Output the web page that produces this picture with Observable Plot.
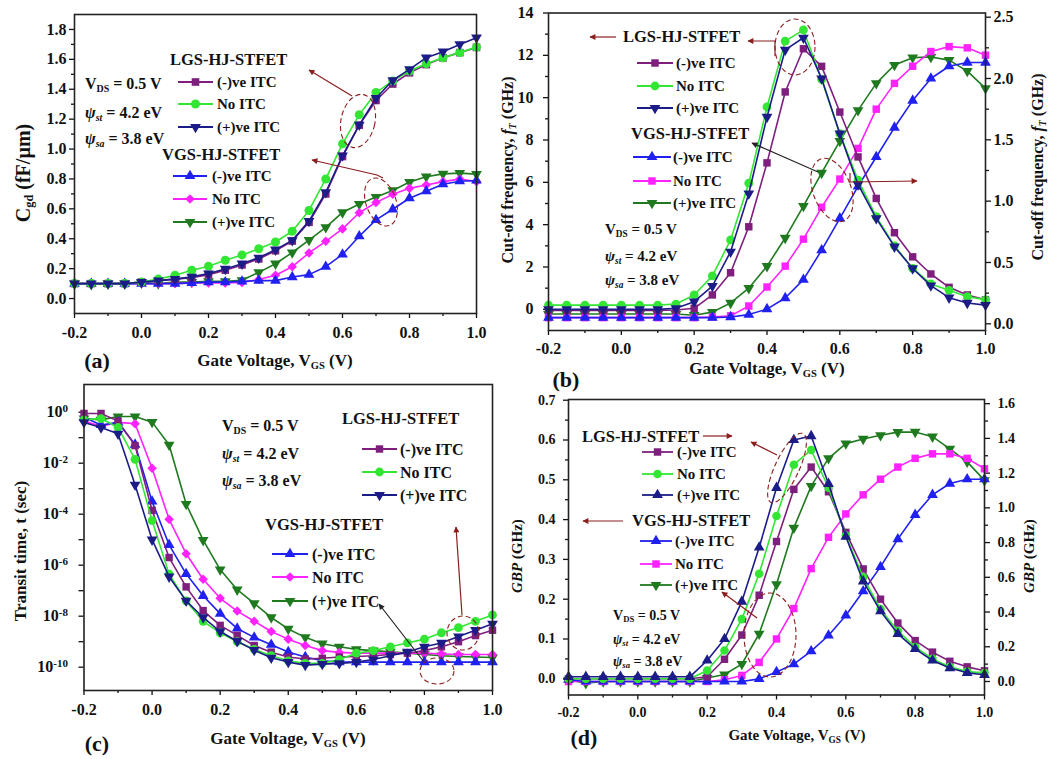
<!DOCTYPE html>
<html><head><meta charset="utf-8">
<script src="https://cdn.jsdelivr.net/npm/d3@7"></script>
<script src="https://cdn.jsdelivr.net/npm/@observablehq/plot@0.6"></script>
<style>
body{margin:0;background:#fff;}
#root{position:relative;width:1049px;height:759px;overflow:hidden;background:#fff;}
.panel{position:absolute;}
#overlay{position:absolute;left:0;top:0;font-family:"Liberation Serif","Times New Roman",serif;}
</style></head><body><div id="root"></div>
<script>
// ---------- data ----------
const VG = [-0.2,-0.15,-0.1,-0.05,0,0.05,0.1,0.15,0.2,0.25,0.3,0.35,0.4,0.45,0.5,0.55,0.6,0.65,0.7,0.75,0.8,0.85,0.9,0.95,1.0];
const xTickLabels = [-0.2,0,0.2,0.4,0.6,0.8,1.0];
const xMinorTicks = [-0.1,0.1,0.3,0.5,0.7,0.9];

// (a) Cgd (fF/um)
const a_lgs_neg = [0.10,0.10,0.10,0.10,0.11,0.12,0.13,0.14,0.16,0.19,0.225,0.265,0.32,0.385,0.51,0.70,0.95,1.16,1.325,1.435,1.51,1.565,1.61,1.645,1.68];
const a_lgs_no  = [0.10,0.10,0.10,0.10,0.11,0.13,0.156,0.189,0.216,0.256,0.292,0.333,0.378,0.45,0.589,0.80,1.035,1.23,1.378,1.456,1.522,1.571,1.611,1.645,1.682];
const a_lgs_pos = [0.10,0.10,0.10,0.10,0.11,0.12,0.13,0.145,0.167,0.198,0.233,0.273,0.327,0.389,0.518,0.711,0.956,1.162,1.34,1.46,1.533,1.611,1.651,1.70,1.745];
const a_vgs_neg = [0.10,0.10,0.10,0.10,0.10,0.10,0.10,0.105,0.11,0.11,0.115,0.12,0.12,0.144,0.16,0.213,0.295,0.417,0.526,0.597,0.671,0.718,0.765,0.785,0.79];
const a_vgs_no  = [0.10,0.10,0.10,0.10,0.10,0.10,0.10,0.105,0.105,0.105,0.108,0.127,0.156,0.213,0.305,0.383,0.466,0.574,0.642,0.697,0.737,0.76,0.782,0.799,0.782];
const a_vgs_pos = [0.10,0.095,0.10,0.10,0.105,0.10,0.11,0.11,0.115,0.115,0.122,0.175,0.233,0.308,0.391,0.476,0.576,0.632,0.679,0.723,0.779,0.815,0.834,0.839,0.832];

// (b) fT (GHz): LGS on left axis, VGS on right axis
const b_lgs_neg = [-0.05,-0.05,-0.05,-0.05,-0.05,-0.05,-0.05,-0.03,0.05,0.68,1.73,3.9,6.92,10.27,12.31,11.48,9.32,7.2,5.24,3.62,2.48,1.67,1.04,0.68,0.45];
const b_lgs_no  = [0.2,0.2,0.2,0.2,0.2,0.2,0.2,0.25,0.68,1.58,3.28,5.96,9.56,12.67,13.2,10.86,8.3,6.1,4.38,3.0,1.93,1.2,0.9,0.6,0.45];
const b_lgs_pos = [0,0,0,0,0,0,0,0.05,0.36,1.1,2.72,5.47,9.09,12.26,12.83,10.9,8.3,5.9,4.3,2.96,1.93,1.12,0.55,0.3,0.2];
const b_vgs_neg = [0.05,0.05,0.05,0.05,0.05,0.05,0.05,0.05,0.05,0.05,0.055,0.075,0.12,0.21,0.36,0.60,0.86,1.12,1.36,1.60,1.82,2.0,2.10,2.13,2.13];
const b_vgs_no  = [0.05,0.05,0.05,0.05,0.05,0.05,0.05,0.05,0.05,0.055,0.065,0.145,0.30,0.47,0.69,0.95,1.18,1.43,1.75,1.96,2.10,2.22,2.26,2.25,2.19];
const b_vgs_pos = [0.08,0.08,0.08,0.08,0.08,0.08,0.08,0.08,0.07,0.095,0.17,0.29,0.47,0.70,0.96,1.23,1.49,1.74,1.96,2.11,2.17,2.175,2.15,2.06,1.92];

// (c) transit time, stored as log10(t / sec)
const c_lgs_neg = [-0.05,-0.05,-0.35,-1.31,-3.85,-5.7,-6.85,-7.78,-8.36,-8.75,-9.15,-9.41,-9.6,-9.68,-9.65,-9.6,-9.58,-9.55,-9.5,-9.45,-9.35,-9.2,-9.0,-8.76,-8.55];
const c_lgs_no  = [-0.3,-0.25,-0.6,-1.85,-4.25,-6.35,-7.4,-8.2,-8.65,-9.0,-9.3,-9.55,-9.75,-9.85,-9.85,-9.7,-9.45,-9.35,-9.2,-9.05,-8.9,-8.65,-8.45,-8.2,-7.95];
const c_lgs_pos = [-0.4,-0.6,-0.85,-2.85,-5.0,-6.45,-7.4,-8.05,-8.6,-8.98,-9.33,-9.63,-9.8,-9.92,-9.88,-9.85,-9.8,-9.7,-9.55,-9.4,-9.2,-9.05,-8.8,-8.55,-8.3];
const c_vgs_neg = [-0.2,-0.5,-0.4,-1.27,-3.5,-5.2,-6.34,-7.2,-7.9,-8.48,-8.83,-9.12,-9.4,-9.6,-9.75,-9.8,-9.8,-9.8,-9.8,-9.8,-9.8,-9.8,-9.8,-9.8,-9.8];
const c_vgs_no  = [-0.35,-0.55,-0.4,-0.45,-2.2,-4.2,-5.55,-6.55,-7.3,-7.8,-8.2,-8.6,-8.9,-9.15,-9.35,-9.42,-9.45,-9.45,-9.45,-9.45,-9.45,-9.48,-9.5,-9.5,-9.5];
const c_vgs_pos = [-0.25,-0.3,-0.17,-0.17,-0.39,-1.28,-3.6,-5.02,-6.17,-6.96,-7.5,-8.05,-8.5,-8.83,-9.08,-9.2,-9.3,-9.35,-9.4,-9.45,-9.5,-9.55,-9.58,-9.6,-9.62];
const cTicks = [1e-10,1e-9,1e-8,1e-7,1e-6,1e-5,1e-4,1e-3,1e-2,1e-1,1e0];

// (d) GBP (GHz): LGS left axis, VGS right axis
const d_lgs_neg = [0,0,0,0,0,0,0,0,0.005,0.049,0.11,0.21,0.345,0.476,0.532,0.47,0.368,0.276,0.2,0.14,0.096,0.067,0.044,0.03,0.02];
const d_lgs_no  = [0,0,0,0,0,0,0,0,0.021,0.071,0.15,0.264,0.409,0.538,0.575,0.48,0.36,0.255,0.175,0.12,0.08,0.05,0.03,0.018,0.015];
const d_lgs_pos = [0.005,0.005,0.005,0.005,0.005,0.005,0.005,0.005,0.046,0.1,0.194,0.33,0.48,0.60,0.61,0.49,0.357,0.245,0.17,0.113,0.075,0.046,0.027,0.015,0.01];
const d_vgs_neg = [0.01,0,0,0,0,0,0,0,0,0,0,0.015,0.055,0.1,0.175,0.265,0.38,0.52,0.66,0.82,0.96,1.075,1.14,1.165,1.165];
const d_vgs_no  = [0,0,0,0,0,0,0,0,0,0.01,0.035,0.11,0.245,0.42,0.65,0.83,0.965,1.075,1.165,1.235,1.285,1.311,1.311,1.285,1.225];
const d_vgs_pos = [0.01,-0.01,0,0,0,0,0,0,0.02,0.04,0.10,0.275,0.56,0.885,1.125,1.285,1.37,1.397,1.418,1.436,1.437,1.41,1.34,1.265,1.158];

const legendLabels = ["(-)ve ITC","No ITC","(+)ve ITC"];
const groupLabels = ["LGS-HJ-STFET","VGS-HJ-STFET"];

// ---------- styles ----------
const COL = {purple:"#7e1f7e", green:"#33e633", navy:"#1c1c88", blue:"#2020f0", magenta:"#ff22ff", dkgreen:"#1f7a1f"};
const ANNO = "#8b1e1e";
const triDown = {draw(ctx,size){const y=-Math.sqrt(size/(Math.sqrt(3)*3));ctx.moveTo(0,-y*2);ctx.lineTo(-Math.sqrt(3)*y,y);ctx.lineTo(Math.sqrt(3)*y,y);ctx.closePath();}};
const diamond = {draw(ctx,size){const r=Math.sqrt(size)*0.62625;ctx.moveTo(0,-r);ctx.lineTo(r,0);ctx.lineTo(0,r);ctx.lineTo(-r,0);ctx.closePath();}};
const d3sym = {square:d3.symbolSquare, circle:d3.symbolCircle, triangle:d3.symbolTriangle};
const FONT = "'Liberation Serif','Times New Roman',serif";
const plotStyle = `background:transparent;font-family:${FONT};font-weight:bold;color:#111;overflow:visible;`;

const root = document.getElementById("root");
function place(plot, left, top, w, h){
  const div = document.createElement("div");
  div.className = "panel";
  div.style.left = left+"px"; div.style.top = top+"px"; div.style.width = w+"px"; div.style.height = h+"px";
  div.appendChild(plot); root.appendChild(div);
  return plot;
}
function seriesMarks(list, toY = v => v){
  const m = [];
  for (const s of list){
    const pts = VG.map((x,i)=>({x, y: toY(s.values[i])}));
    m.push(Plot.line(pts, {x:"x", y:"y", stroke:s.color, strokeWidth:1.6}));
    m.push(Plot.dot(pts, {x:"x", y:"y", fill:s.color, stroke:"none", symbol:s.symbol, r:s.r}));
  }
  return m;
}
function xAxes(pad, fs){
  return [
    Plot.axisX({ticks:xTickLabels, tickFormat:d=>d.toFixed(1), tickSize:5, tickPadding:pad, fontSize:fs, label:null, strokeWidth:1.3}),
    Plot.axisX({ticks:xMinorTicks, tickFormat:()=>"", tickSize:3, label:null, strokeWidth:1.3})
  ];
}
function yAxes(anchor, major, minor, fmt, pad, fs){
  return [
    Plot.axisY({anchor, ticks:major, tickFormat:fmt, tickSize:5, tickPadding:pad, fontSize:fs, label:null, strokeWidth:1.3}),
    Plot.axisY({anchor, ticks:minor, tickFormat:()=>"", tickSize:3, label:null, strokeWidth:1.3})
  ];
}
const frame = () => Plot.frame({stroke:"#222", strokeWidth:1.6});

// ---------- panel (a) ----------
{
  const W=490,H=345;
  const list = [
    {values:a_vgs_pos, color:COL.dkgreen, symbol:triDown, r:4},
    {values:a_vgs_no, color:COL.magenta, symbol:diamond, r:4.3},
    {values:a_vgs_neg, color:COL.blue, symbol:"triangle", r:4},
    {values:a_lgs_neg, color:COL.purple, symbol:"square", r:4.3},
    {values:a_lgs_no, color:COL.green, symbol:"circle", r:4.5},
    {values:a_lgs_pos, color:COL.navy, symbol:triDown, r:4},
  ];
  const p = Plot.plot({
    width:W, height:H, marginLeft:74, marginRight:W-476, marginTop:14, marginBottom:H-313,
    style:plotStyle,
    x:{domain:[-0.2,1.0], label:null},
    y:{domain:[-0.1,1.9], label:null},
    marks:[
      ...xAxes(8,16),
      ...yAxes("left",[0,0.2,0.4,0.6,0.8,1.0,1.2,1.4,1.6,1.8],[0.1,0.3,0.5,0.7,0.9,1.1,1.3,1.5,1.7],d=>d.toFixed(1),3,16),
      ...seriesMarks(list),
      frame()
    ]
  });
  place(p,0,0,W,H);
}

// ---------- panel (b) ----------
{
  const W=549,H=380, mL=48, mR=64, mT=12.5, mB=50;
  const vgs = [
    {values:b_vgs_pos, color:COL.dkgreen, symbol:triDown, r:4},
    {values:b_vgs_no, color:COL.magenta, symbol:"square", r:4.2},
    {values:b_vgs_neg, color:COL.blue, symbol:"triangle", r:4},
  ];
  const lgs = [
    {values:b_lgs_neg, color:COL.purple, symbol:"square", r:4.2},
    {values:b_lgs_no, color:COL.green, symbol:"circle", r:4.4},
    {values:b_lgs_pos, color:COL.navy, symbol:triDown, r:4},
  ];
  const p2 = Plot.plot({
    width:W, height:H, marginLeft:mL, marginRight:mR, marginTop:mT, marginBottom:mB,
    style:plotStyle,
    x:{domain:[-0.2,1.0], label:null, axis:null},
    y:{domain:[-0.0546,2.534], label:null},
    marks:[
      ...yAxes("right",[0,0.5,1.0,1.5,2.0,2.5],[0.25,0.75,1.25,1.75,2.25],d=>d.toFixed(1),3,16),
      ...seriesMarks(vgs)
    ]
  });
  place(p2,500,0,W,H);
  const p1 = Plot.plot({
    width:W, height:H, marginLeft:mL, marginRight:mR, marginTop:mT, marginBottom:mB,
    style:plotStyle,
    x:{domain:[-0.2,1.0], label:null},
    y:{domain:[-1,14], label:null},
    marks:[
      ...xAxes(7,16),
      ...yAxes("left",[0,2,4,6,8,10,12,14],[1,3,5,7,9,11,13],d=>String(d),10,16),
      ...seriesMarks(lgs),
      frame()
    ]
  });
  place(p1,500,0,W,H);
}

// ---------- panel (c) ----------
{
  const W=500,H=379;
  const list = [
    {values:c_vgs_pos, color:COL.dkgreen, symbol:triDown, r:4},
    {values:c_vgs_no, color:COL.magenta, symbol:diamond, r:4.3},
    {values:c_vgs_neg, color:COL.blue, symbol:"triangle", r:4},
    {values:c_lgs_neg, color:COL.purple, symbol:"square", r:4.2},
    {values:c_lgs_no, color:COL.green, symbol:"circle", r:4.4},
    {values:c_lgs_pos, color:COL.navy, symbol:triDown, r:4},
  ];
  const p = Plot.plot({
    width:W, height:H, marginLeft:83.5, marginRight:W-492, marginTop:4, marginBottom:H-310,
    style:plotStyle,
    x:{domain:[-0.2,1.0], label:null},
    y:{type:"log", domain:[Math.pow(10,-10.914), Math.pow(10,1.086)], label:null},
    marks:[
      ...xAxes(8,16),
      Plot.axisY({ticks:cTicks, tickFormat:d=>{const e=Math.round(Math.log10(d)); return e%2===0 ? "10^"+e : "";}, tickSize:5, tickPadding:11, fontSize:16, label:null, strokeWidth:1.3}),
      ...seriesMarks(list, v => Math.pow(10, v)),
      frame()
    ]
  });
  place(p,0,380,W,H);
  p.querySelectorAll("text").forEach(t=>{
    const s = t.textContent;
    if (s.startsWith("10^")){
      const e = s.slice(3);
      t.textContent = "10";
      const ts = document.createElementNS("http://www.w3.org/2000/svg","tspan");
      ts.setAttribute("dy","-0.5em"); ts.setAttribute("font-size","11px"); ts.textContent = e;
      t.appendChild(ts);
    }
  });
}

// ---------- panel (d) ----------
{
  const W=549,H=379, mL=68, mR=65, mT=19, mB=64.5;
  const vgs = [
    {values:d_vgs_pos, color:COL.dkgreen, symbol:triDown, r:4},
    {values:d_vgs_no, color:COL.magenta, symbol:"square", r:4.2},
    {values:d_vgs_neg, color:COL.blue, symbol:"triangle", r:4},
  ];
  const lgs = [
    {values:d_lgs_neg, color:COL.purple, symbol:"square", r:4.2},
    {values:d_lgs_no, color:COL.green, symbol:"circle", r:4.3},
    {values:d_lgs_pos, color:COL.navy, symbol:"triangle", r:4},
  ];
  const p2 = Plot.plot({
    width:W, height:H, marginLeft:mL, marginRight:mR, marginTop:mT, marginBottom:mB,
    style:plotStyle,
    x:{domain:[-0.2,1.0], label:null, axis:null},
    y:{domain:[-0.0778,1.624], label:null},
    marks:[
      ...yAxes("right",[0,0.2,0.4,0.6,0.8,1.0,1.2,1.4,1.6],[0.1,0.3,0.5,0.7,0.9,1.1,1.3,1.5],d=>d.toFixed(1),8,14),
      ...seriesMarks(vgs)
    ]
  });
  place(p2,500,380,W,H);
  const p1 = Plot.plot({
    width:W, height:H, marginLeft:mL, marginRight:mR, marginTop:mT, marginBottom:mB,
    style:plotStyle,
    x:{domain:[-0.2,1.0], label:null},
    y:{domain:[-0.0407,0.7018], label:null},
    marks:[
      ...xAxes(7,14),
      ...yAxes("left",[0,0.1,0.2,0.3,0.4,0.5,0.6,0.7],[0.05,0.15,0.25,0.35,0.45,0.55,0.65],d=>d.toFixed(1),8,14),
      ...seriesMarks(lgs),
      frame()
    ]
  });
  place(p1,500,380,W,H);
}

// ---------- overlay: titles, legends, annotations ----------
const ov = d3.select(root).append("svg").attr("id","overlay").attr("width",1049).attr("height",759);
const defs = ov.append("defs");
function mk(id,color){
  defs.append("marker").attr("id",id).attr("viewBox","0 0 10 10").attr("refX",9).attr("refY",5)
    .attr("markerWidth",7).attr("markerHeight",5).attr("orient","auto")
    .append("path").attr("d","M0,0L10,5L0,10z").attr("fill",color);
}
mk("arR",ANNO); mk("arK","#222");

function T(x,y,parts,{size=16,anchor="start",rotate=0}={}){
  const t = ov.append("text").attr("x",x).attr("y",y).attr("text-anchor",anchor)
    .attr("dominant-baseline","central").attr("font-size",size).attr("font-weight","bold").attr("fill","#111");
  if (rotate) t.attr("transform",`rotate(${rotate},${x},${y})`);
  let shift = 0;
  for (const p of (Array.isArray(parts)?parts:[parts])){
    const o = typeof p === "string" ? {t:p} : p;
    const sp = t.append("tspan").text(o.t);
    if (o.i) sp.attr("font-style","italic");
    const want = o.sub ? size*0.32 : 0;
    if (want !== shift){ sp.attr("dy", want - shift); shift = want; }
    if (o.sub) sp.attr("font-size", size*0.62);
  }
  return t;
}
function legend(x1,x2,y,color,sym,r,label,tx,size){
  ov.append("line").attr("x1",x1).attr("x2",x2).attr("y1",y).attr("y2",y).attr("stroke",color).attr("stroke-width",1.8);
  const type = typeof sym === "string" ? d3sym[sym] : sym;
  ov.append("path").attr("d",d3.symbol(type, Math.PI*r*r)()).attr("transform",`translate(${(x1+x2)/2},${y})`).attr("fill",color);
  T(tx,y,label,{size});
}
function ell(cx,cy,rx,ry,rot=0){
  ov.append("ellipse").attr("cx",cx).attr("cy",cy).attr("rx",rx).attr("ry",ry)
    .attr("transform",`rotate(${rot},${cx},${cy})`).attr("fill","none").attr("stroke",ANNO)
    .attr("stroke-width",1.1).attr("stroke-dasharray","5,3");
}
function arrow(pts,color="arR"){
  ov.append("path").attr("d",d3.line()(pts)).attr("fill","none")
    .attr("stroke",color==="arR"?ANNO:"#222").attr("stroke-width",1.2).attr("marker-end",`url(#${color})`);
}
const VDS = [ "V", {t:"DS",sub:true}, " = 0.5 V" ];
const PST = [ {t:"ψ",i:true}, {t:"st",sub:true,i:true}, " = 4.2 eV" ];
const PSA = [ {t:"ψ",i:true}, {t:"sa",sub:true,i:true}, " = 3.8 eV" ];
const XT = [ "Gate Voltage, V", {t:"GS",sub:true}, " (V)" ];

// panel a texts
T(23,173,["C",{t:"gd",sub:true}," (fF/µm)"],{size:20,anchor:"middle",rotate:-90});
T(275,360,XT,{size:17,anchor:"middle"});
T(97,360,"(a)",{size:22,anchor:"middle"});
T(85,83,VDS,{size:16}); T(85,112,PST,{size:16}); T(85,138,PSA,{size:16});
T(170,59,groupLabels[0],{size:16.5});
legend(178,213,82,COL.purple,"square",4.3,legendLabels[0],217,15);
legend(178,213,104,COL.green,"circle",4.5,legendLabels[1],217,15);
legend(178,213,127,COL.navy,triDown,4,legendLabels[2],217,15);
T(162,154,groupLabels[1],{size:16.5});
legend(173,207,176,COL.blue,"triangle",4,legendLabels[0],212,15);
legend(173,207,199,COL.magenta,diamond,4.3,legendLabels[1],212,15);
legend(173,207,222,COL.dkgreen,triDown,4,legendLabels[2],212,15);
ell(358,121,17,27,12); arrow([[352,96],[309,70]]);
ell(381,202,15,25,-20); arrow([[383,178],[377,175],[312,160]]);

// panel b texts
T(507,170,["Cut-off frequency, ",{t:"f",i:true},{t:"T",sub:true,i:true}," (GHz)"],{size:16,anchor:"middle",rotate:-90});
T(1037,167,["Cut-off frequency, ",{t:"f",i:true},{t:"T",sub:true,i:true}," (GHz)"],{size:16,anchor:"middle",rotate:-90});
T(767,368,XT,{size:17,anchor:"middle"});
T(566,379,"(b)",{size:22,anchor:"middle"});
T(605,229,VDS,{size:15}); T(605,256,PST,{size:15}); T(605,280,PSA,{size:15});
T(623,36,groupLabels[0],{size:16.5});
legend(637,673,63,COL.purple,"square",4.2,legendLabels[0],676,15);
legend(637,673,86,COL.green,"circle",4.4,legendLabels[1],676,15);
legend(637,673,108,COL.navy,triDown,4,legendLabels[2],676,15);
T(631,133,groupLabels[1],{size:16.5});
legend(633,671,157,COL.blue,"triangle",4,legendLabels[0],673,15);
legend(633,671,181,COL.magenta,"square",4.2,legendLabels[1],673,15);
legend(633,671,203,COL.dkgreen,triDown,4,legendLabels[2],673,15);
arrow([[616,37],[590,37]]);
ell(795,47,20,28,0); arrow([[775,56],[775,41],[748,41]]);
arrow([[818,172],[752,143]],"arK");
ell(832,190,19,33,-20); arrow([[850,173],[850,182],[917,181]]);

// panel c texts
T(20,551,"Transit time, t (sec)",{size:17,anchor:"middle",rotate:-90});
T(288,738,XT,{size:17,anchor:"middle"});
T(97,743,"(c)",{size:22,anchor:"middle"});
T(222,425,VDS,{size:16}); T(222,453,PST,{size:16}); T(222,480,PSA,{size:16});
T(342,418,groupLabels[0],{size:16.5});
legend(362,397,449,COL.purple,"square",4.2,legendLabels[0],400,16);
legend(362,397,472,COL.green,"circle",4.4,legendLabels[1],400,16);
legend(362,397,495,COL.navy,triDown,4,legendLabels[2],400,16);
T(265,524,groupLabels[1],{size:16.5});
legend(272,308,554,COL.blue,"triangle",4,legendLabels[0],312,16);
legend(272,308,577,COL.magenta,diamond,4.3,legendLabels[1],312,16);
legend(272,308,601,COL.dkgreen,triDown,4,legendLabels[2],312,16);
ell(463,633,16,17,0); arrow([[462,615],[456,527]]);
ell(437,671,17,13,0); arrow([[424,662],[379,604]],"arK");

// panel d texts
T(517,556,[{t:"GBP",i:true}," (GHz)"],{size:15,anchor:"middle",rotate:-90});
T(1029,556,[{t:"GBP",i:true}," (GHz)"],{size:15,anchor:"middle",rotate:-90});
T(797,735,XT,{size:15,anchor:"middle"});
T(584,737,"(d)",{size:22,anchor:"middle"});
T(613,615,VDS,{size:14}); T(613,639,PST,{size:14}); T(613,661,PSA,{size:14});
T(582,436,groupLabels[0],{size:16.5});
arrow([[703,436],[732,436]]);
legend(642,673,452,COL.purple,"square",4.2,legendLabels[0],677,15);
legend(642,673,474,COL.green,"circle",4.3,legendLabels[1],677,15);
legend(642,673,495,COL.navy,"triangle",4,legendLabels[2],677,15);
T(632,520,groupLabels[1],{size:16.5});
arrow([[623,521],[583,521]]);
legend(640,672,541,COL.blue,"triangle",4,legendLabels[0],675,15);
legend(640,672,564,COL.magenta,"square",4.2,legendLabels[1],675,15);
legend(640,672,585,COL.dkgreen,triDown,4,legendLabels[2],675,15);
ell(787,468,12,38,25); arrow([[777,455],[751,442]]);
ell(770,635,26,42,0); arrow([[757,618],[722,592]]);
</script></body></html>
